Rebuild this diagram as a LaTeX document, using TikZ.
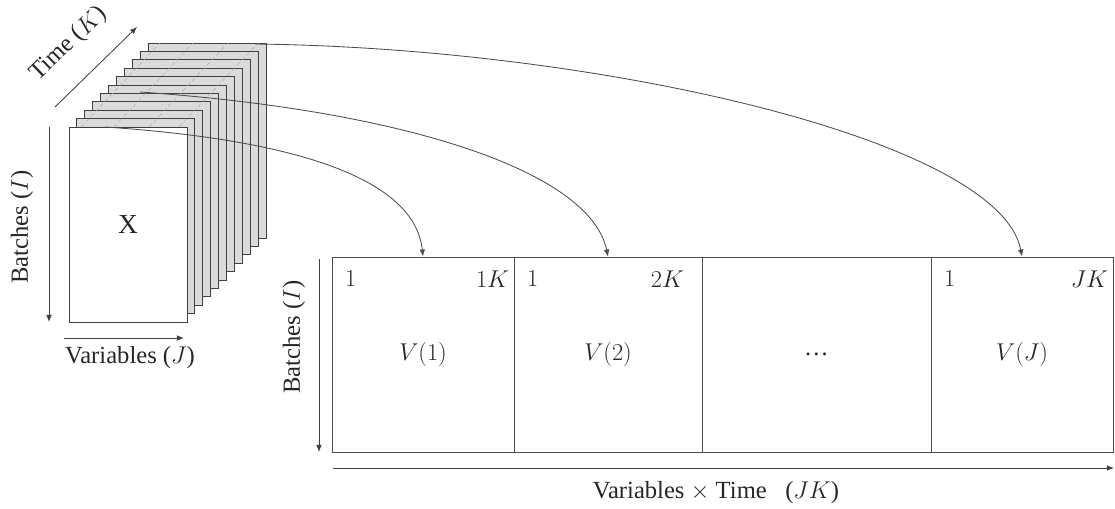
\documentclass[tikz,border=0pt]{standalone}
\usepackage{fontspec}
\setmainfont{Liberation Serif}
\usetikzlibrary{arrows.meta, positioning}

\begin{document}
\begin{tikzpicture}[
        x=0.025cm, y=-0.025cm,
        >={Latex[length=5pt,width=4pt]}, % small filled tips
        line width=0.6pt,
        every node/.style={text=black!85, font=\fontsize{17.5}{20}\selectfont},
        slice/.style={draw=black!75, fill=gray!28},
        front/.style={draw=black!75, fill=white, minimum width=2.95cm, minimum height=4.875cm, inner sep=0pt},
        cell/.style={draw=black!70, minimum height=4.875cm, inner sep=0pt},
        corner/.style={inner sep=0pt},
        axis/.style={->, draw=black!75},
        link/.style={->, draw=black!70}
    ]
    \useasboundingbox (0,0) rectangle (1115,508);

    % --- Stack of slices (one per time point) ---
    \foreach \k in {10,...,1}
        \draw[slice] ({69+7.9*\k},{127-8.4*\k}) rectangle ++(118,195);
    \foreach \d in {12,45,80,110}
        \draw[gray!70, densely dashed, line width=0.3pt] ({69+\d},127) -- ({148+\d},43);
    \node[front, font=\fontsize{19.5}{22}\selectfont] (X) at (128,224.5) {X};

    % --- Axes of the three-way array ---
    \coordinate (t0) at (55,107);
    \coordinate (t1) at (137,27);
    \draw[axis] (t0) -- (t1);
    \node[rotate=44, inner sep=1pt] (time) at (69,44) {Time ($K$)};

    \coordinate (b0) at (49,127);
    \coordinate (b1) at (49,322);
    \draw[axis] (b0) -- (b1);
    \node[rotate=90] (batchesX) at (22,227) {Batches ($I$)};

    \coordinate (j0) at (64,338);
    \coordinate (j1) at (184,338);
    \draw[axis] (j0) -- (j1);
    \node (vars) at (130,358) {Variables ($J$)};

    % --- Unfolded matrix ---
    \node[cell, minimum width=4.55cm] (v1) at (423,354.5) {$V(1)$};
    \node[cell, minimum width=4.7cm] (v2) at (608,354.5) {$V(2)$};
    \node[cell, minimum width=5.725cm] (vdots) at (816.5,354.5) {\ldots};
    \node[cell, minimum width=4.55cm] (vJ) at (1022,354.5) {$V(J)$};

    \node[corner, anchor=north west] (v1a) at ([xshift=0.33cm, yshift=-0.35cm]v1.north west) {$1$};
    \node[corner, anchor=north east] (v1b) at ([xshift=-0.12cm, yshift=-0.35cm]v1.north east) {$1K$};
    \node[corner, anchor=north west] (v2a) at ([xshift=0.33cm, yshift=-0.35cm]v2.north west) {$1$};
    \node[corner, anchor=north east] (v2b) at ([xshift=-0.45cm, yshift=-0.35cm]v2.north east) {$2K$};
    \node[corner, anchor=north west] (vJa) at ([xshift=0.33cm, yshift=-0.35cm]vJ.north west) {$1$};
    \node[corner, anchor=north east] (vJb) at ([xshift=-0.12cm, yshift=-0.35cm]vJ.north east) {$JK$};

    \coordinate (m0) at (319,259);
    \coordinate (m1) at (319,452);
    \draw[axis] (m0) -- (m1);
    \node[rotate=90] (batchesM) at (294,337) {Batches ($I$)};

    \coordinate (u0) at (333,468);
    \coordinate (u1) at (1114,468);
    \draw[axis] (u0) -- (u1);
    \node (unfold) at (716,493) {Variables $\times$ Time\ \ \ ($JK$)};

    % --- Slices mapped to blocks ---
    \coordinate (s1) at (105,127);
    \coordinate (s4) at (140,92);
    \coordinate (s10) at (255,44);
    \draw[link] (s1) .. controls (300,140) and (415,180) .. (v1.north);
    \draw[link] (s4) .. controls (400,110) and (590,170) .. (v2.north);
    \draw[link] (s10) .. controls (600,48) and (1000,140) .. (vJ.north);

\end{tikzpicture}
\end{document}
